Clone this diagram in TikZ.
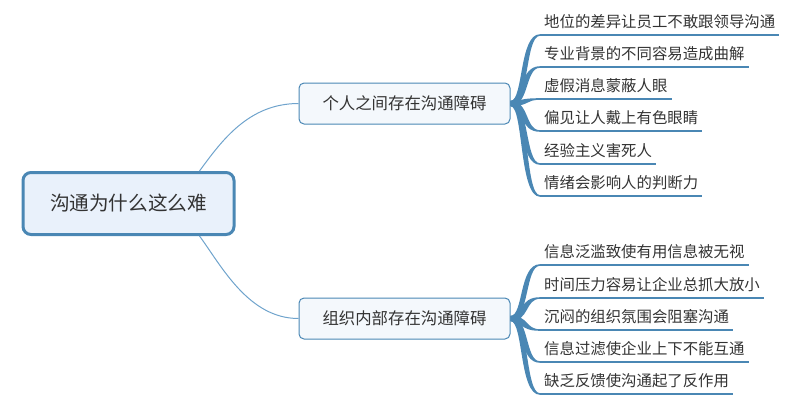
\documentclass[tikz,border=0pt]{standalone}
\usepackage{fontspec}
\setmainfont{Noto Sans CJK SC}
\usetikzlibrary{calc}
\definecolor{mblue}{HTML}{4A87B4}
\definecolor{lblue}{HTML}{6FA3CC}
\definecolor{rootfill}{HTML}{E9F1FB}
\definecolor{subfill}{HTML}{F4F8FC}
\definecolor{txt}{HTML}{333333}
% #1 from, #2 to, #3 = -1 if target above, +1 if below
\newcommand{\taper}[3]{%
  \fill[mblue] ($(#1)+(0,-2.6)$) .. controls ($(#1)+({16+3*#3},-2.6)$) and ($(#2)+({-18+3*#3},-0.8)$) .. ($(#2)+(0,-0.8)$)
    -- ($(#2)+(0,0.8)$) .. controls ($(#2)+({-18-3*#3},0.8)$) and ($(#1)+({16-3*#3},2.6)$) .. ($(#1)+(0,2.6)$) -- cycle;}
\tikzset{
  rootbox/.style={draw=mblue, line width=3pt, fill=rootfill, rounded corners=8pt,
    minimum width=211pt, minimum height=62pt, text=txt, font=\fontsize{19.6}{22}\selectfont},
  subbox/.style={draw=mblue, line width=1pt, fill=subfill, rounded corners=5pt,
    minimum width=211pt, minimum height=41pt, text=txt, font=\fontsize{16.4}{19}\selectfont},
  leaf/.style={anchor=south west, inner xsep=4pt, inner ysep=2pt, text height=12pt, text depth=5pt,
    text=txt, font=\fontsize{15.4}{17}\selectfont},
  uline/.style={draw=mblue, line width=1.5pt},
  rootlink/.style={draw=lblue, line width=1pt}
}
\begin{document}
\begin{tikzpicture}[x=1pt,y=-1pt]
\useasboundingbox (0,0) rectangle (800,405);
\node[rootbox] (root) at (128.5,203.5) {沟通为什么这么难};
\node[subbox] (b1) at (404.5,103.5) {个人之间存在沟通障碍};
\node[subbox] (b2) at (404.5,318.5) {组织内部存在沟通障碍};
\coordinate (rt) at ($(root.north east)+(-36,0)$);
\coordinate (rb) at ($(root.south east)+(-36,0)$);
\draw[rootlink] (rt) .. controls ($(rt)+(22,-30)$) and ($(b1.west)+(-50,0)$) .. (b1.west);
\draw[rootlink] (rb) .. controls ($(rb)+(22,30)$) and ($(b2.west)+(-50,0)$) .. (b2.west);
% leaves group 1
\node[leaf] (l1) at (540,35) {地位的差异让员工不敢跟领导沟通};
\node[leaf] (l2) at (540,67) {专业背景的不同容易造成曲解};
\node[leaf] (l3) at (540,99) {虚假消息蒙蔽人眼};
\node[leaf] (l4) at (540,131) {偏见让人戴上有色眼睛};
\node[leaf] (l5) at (540,164) {经验主义害死人};
\node[leaf] (l6) at (540,196) {情绪会影响人的判断力};
% leaves group 2
\node[leaf] (m1) at (540,265) {信息泛滥致使有用信息被无视};
\node[leaf] (m2) at (540,298) {时间压力容易让企业总抓大放小};
\node[leaf] (m3) at (540,330) {沉闷的组织氛围会阻塞沟通};
\node[leaf] (m4) at (540,362) {信息过滤使企业上下不能互通};
\node[leaf] (m5) at (540,394) {缺乏反馈使沟通起了反作用};
\foreach \l/\s in {l1/-1,l2/-1,l3/-1,l4/1,l5/1,l6/1} {
  \taper{b1.east}{\l.south west}{\s}
  \draw[uline] (\l.south west) -- (\l.south east);
}
\foreach \l/\s in {m1/-1,m2/-1,m3/1,m4/1,m5/1} {
  \taper{b2.east}{\l.south west}{\s}
  \draw[uline] (\l.south west) -- (\l.south east);
}
\end{tikzpicture}
\end{document}
